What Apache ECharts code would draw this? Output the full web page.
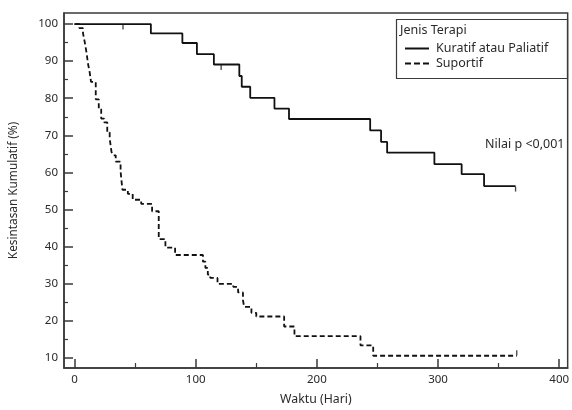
<!DOCTYPE html>
<html>
<head>
<meta charset="utf-8">
<script src="https://cdn.jsdelivr.net/npm/echarts@6/dist/echarts.min.js"></script>
<style>
  html, body { margin: 0; padding: 0; background: #fff; }
  #chart { width: 572px; height: 410px; }
</style>
</head>
<body>
<div id="chart"></div>
<script>
// nilai (hari, kesintasan %)
const kuratifHari = [0, 63, 89, 101, 115, 136, 138, 145, 165, 177, 244, 253, 258, 297, 319.5, 338, 364]
const kuratifNilai = [100, 97.5, 94.9, 91.9, 89.1, 86, 83.1, 80.1, 77.2, 74.4, 71.3, 68.2, 65.3, 62.2, 59.5, 56.3, 56.3]

const suportifHari = [0, 4, 7, 8.5, 10, 11, 12.5, 13.6, 17.5, 20, 22, 24.5, 27, 29, 30.5, 32, 34, 38, 39.5, 44, 48, 55, 64, 69.5, 75, 83, 106, 108, 110, 112, 118, 131, 135, 139, 140, 146, 150, 173, 181.5, 236, 246.5, 365]
const suportifNilai = [100, 98.9, 97.5, 95, 92.1, 89.5, 87, 84.4, 79.7, 77, 74.5, 73.5, 70.8, 69.1, 65.5, 64.6, 62.9, 60.2, 55.3, 54.2, 52.6, 51.5, 49.5, 42, 39.7, 37.7, 35.9, 34.2, 32.4, 31.5, 29.9, 29.1, 27.6, 25.5, 23.7, 22.1, 21.1, 18.4, 15.8, 13.3, 10.5, 10.5]

// tanda sensor
const sensorKuratif = [[40, 100], [121, 89.1], [364, 56.3]]
const sensorSuportif = [[365, 10.5]]

const xTicks = [0, 100, 200, 300, 400]
const xMinor = [50, 150, 250, 350]
const yTicks = [10, 20, 30, 40, 50, 60, 70, 80, 90, 100]
const yMinor = [15, 25, 35, 45, 55, 65, 75, 85, 95]

const namaKuratif = 'Kuratif atau Paliatif'
const namaSuportif = 'Suportif'
const labelKuratif = '56,3%'
const labelSuportif = '10,5%'
const teksP = 'Nilai p <0,001'

const font = 'Noto Sans'
const textColor = '#2a2a2a'
const axisColor = '#3a3a3a'

function pairs(xs, ys) {
  return xs.map((x, i) => [x, ys[i]])
}

const chart = echarts.init(document.getElementById('chart'))

const xRange = { min: -8.7, max: 407 }
const yRange = { min: 7.2, max: 103 }

const option = {
  animation: false,
  textStyle: { fontFamily: font },
  grid: {
    left: 61, right: 2, top: 13, bottom: 38,
    show: true, borderColor: axisColor, borderWidth: 1.5
  },
  xAxis: [
    {
      type: 'value', ...xRange,
      name: 'Waktu (Hari)', nameLocation: 'middle', nameGap: 25,
      nameTextStyle: { fontSize: 12.3, color: textColor },
      axisLine: { show: true, onZero: false, lineStyle: { color: axisColor, width: 1.5 } },
      axisTick: { show: true, inside: true, length: 9, customValues: xTicks, lineStyle: { color: axisColor, width: 1.5 } },
      axisLabel: { customValues: xTicks, color: textColor, fontSize: 11.5, margin: 6 },
      splitLine: { show: false }
    },
    {
      // tick kecil
      type: 'value', ...xRange, position: 'bottom',
      axisLine: { show: false, onZero: false },
      axisTick: { show: true, inside: true, length: 5, customValues: xMinor, lineStyle: { color: axisColor, width: 1.2 } },
      axisLabel: { show: false },
      splitLine: { show: false }
    }
  ],
  yAxis: [
    {
      type: 'value', ...yRange,
      name: 'Kesintasan Kumulatif (%)', nameLocation: 'middle', nameGap: 44,
      nameTextStyle: { fontSize: 11.8, color: textColor },
      axisLine: { show: true, onZero: false, lineStyle: { color: axisColor, width: 1.5 } },
      axisTick: { show: true, inside: true, length: 9, customValues: yTicks, lineStyle: { color: axisColor, width: 1.5 } },
      axisLabel: { customValues: yTicks, color: textColor, fontSize: 11.5, margin: 6 },
      splitLine: { show: false }
    },
    {
      // tick kecil
      type: 'value', ...yRange, position: 'left',
      axisLine: { show: false, onZero: false },
      axisTick: { show: true, inside: true, length: 4, customValues: yMinor, lineStyle: { color: axisColor, width: 1.2 } },
      axisLabel: { show: false },
      splitLine: { show: false }
    }
  ],
  legend: {
    data: [
      { name: namaKuratif, icon: 'path://M0,0H24V2H0Z' },
      { name: namaSuportif, icon: 'path://M0,0H6V2H0ZM9,0H15V2H9ZM18,0H24V2H18Z' }
    ],
    orient: 'vertical',
    left: 400, top: 36,
    itemWidth: 24, itemHeight: 2, itemGap: 0,
    itemStyle: { color: '#111' },
    textStyle: { fontSize: 12.5, color: textColor, fontFamily: font, lineHeight: 15, padding: [0, 0, 0, 2] }
  },
  graphic: [
    {
      type: 'rect', left: 394, top: 17,
      shape: { width: 171, height: 59 },
      style: { fill: 'none', stroke: axisColor, lineWidth: 1.2 }
    },
    {
      type: 'text', left: 400, top: 24,
      style: { text: 'Jenis Terapi', font: '12.5px "Noto Sans"', fill: textColor }
    },
    {
      type: 'text', left: 485, top: 138,
      style: { text: teksP, font: '12.5px "Noto Sans"', fill: textColor }
    }
  ],
  series: [
    {
      name: namaKuratif, type: 'line', step: 'end',
      data: pairs(kuratifHari, kuratifNilai),
      symbol: 'none',
      lineStyle: { color: '#111', width: 1.8, type: 'solid' },
      itemStyle: { color: '#111' },
      markPoint: {
        symbol: 'none',
        label: { show: true, formatter: labelKuratif, color: textColor, fontSize: 12.5, position: 'right', offset: [4, -4] },
        data: [{ coord: [kuratifHari[kuratifHari.length - 1], kuratifNilai[kuratifNilai.length - 1]] }]
      }
    },
    {
      name: namaSuportif, type: 'line', step: 'end',
      data: pairs(suportifHari, suportifNilai),
      symbol: 'none',
      lineStyle: { color: '#111', width: 1.8, type: [5, 3] },
      itemStyle: { color: '#111' },
      markPoint: {
        symbol: 'none',
        label: { show: true, formatter: labelSuportif, color: textColor, fontSize: 12.5, position: 'right', offset: [2, -16] },
        data: [{ coord: [suportifHari[suportifHari.length - 1], suportifNilai[suportifNilai.length - 1]] }]
      }
    },
    {
      name: 'sensor1', type: 'scatter',
      data: sensorKuratif,
      symbol: 'rect', symbolSize: [1.3, 5], symbolOffset: [0, 3],
      itemStyle: { color: '#111' }, silent: true
    },
    {
      name: 'sensor2', type: 'scatter',
      data: sensorSuportif,
      symbol: 'rect', symbolSize: [1.3, 5], symbolOffset: [0, -3],
      itemStyle: { color: '#111' }, silent: true
    }
  ]
}

chart.setOption(option)
</script>
</body>
</html>
